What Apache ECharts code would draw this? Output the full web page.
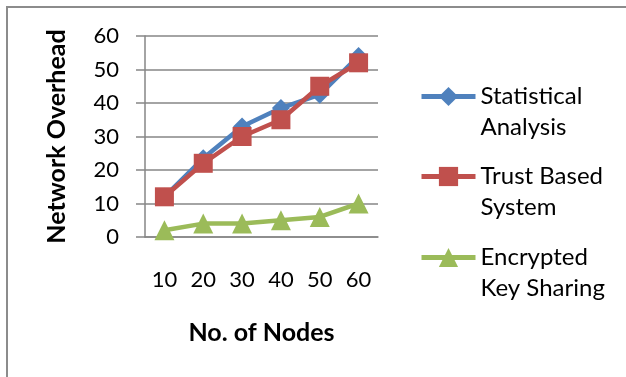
<!DOCTYPE html>
<html>
<head>
<meta charset="utf-8">
<script src="https://cdn.jsdelivr.net/npm/echarts@6/dist/echarts.min.js"></script>
<style>
  html, body { margin: 0; padding: 0; background: #fff; }
  #chart { width: 626px; height: 377px; }
</style>
</head>
<body>
<div id="chart"></div>
<script>
// Network overhead against number of nodes for three schemes
const nodeCounts = ['10', '20', '30', '40', '50', '60'];
const statisticalAnalysis = [12, 23.5, 33, 38.5, 42.5, 54];
const trustBasedSystem = [12, 22, 30, 35, 45, 52];
const encryptedKeySharing = [2, 4, 4, 5, 6, 10];
const seriesNames = ['Statistical Analysis', 'Trust Based System', 'Encrypted Key Sharing'];
// a leading blank line keeps the first text line level with the legend icon
const legendLabels = [' \nStatistical\nAnalysis', ' \nTrust Based\nSystem', ' \nEncrypted\nKey Sharing'];

const FONT = 'Lato, "Open Sans", sans-serif';
const GRID = '#868686';
const colors = ['#4F81BD', '#C0504D', '#9BBB59'];
const symbols = ['diamond', 'rect', 'triangle'];
const symbolSizes = [18, 19, 20];
const seriesData = [statisticalAnalysis, trustBasedSystem, encryptedKeySharing];
const legendTops = [50, 130, 211];

const chart = echarts.init(document.getElementById('chart'), null, { renderer: 'canvas' });

const legends = seriesNames.map((name, i) => ({
  data: [name],
  left: 419,
  top: legendTops[i],
  padding: 0,
  orient: 'vertical',
  itemWidth: 54,
  itemHeight: 24,
  formatter: () => legendLabels[i],
  lineStyle: { width: 5 },
  textStyle: {
    fontFamily: FONT,
    fontSize: 24,
    color: '#000',
    lineHeight: 31
  }
}));

chart.setOption({
  animation: false,
  backgroundColor: '#fff',
  graphic: [{
    type: 'rect',
    shape: { x: 7, y: 7, width: 700, height: 500 },
    style: { fill: 'none', stroke: '#8c8c8c', lineWidth: 2 },
    silent: true
  }],
  grid: { left: 145, top: 36, width: 233, height: 201, containLabel: false },
  legend: legends,
  xAxis: {
    type: 'category',
    data: nodeCounts,
    boundaryGap: true,
    name: 'No. of Nodes',
    nameLocation: 'middle',
    nameGap: 83,
    nameTextStyle: { fontFamily: FONT, fontSize: 25, fontWeight: 'bold', color: '#000' },
    axisLine: { show: true, lineStyle: { color: GRID, width: 1.5 } },
    axisTick: { show: false },
    axisLabel: { fontFamily: FONT, fontSize: 22, color: '#000', margin: 32 },
    splitLine: { show: false }
  },
  yAxis: {
    type: 'value',
    min: 0,
    max: 60,
    interval: 10,
    name: 'Network Overhead',
    nameLocation: 'middle',
    nameGap: 76,
    nameRotate: 90,
    nameTextStyle: { fontFamily: FONT, fontSize: 25, fontWeight: 'bold', color: '#000' },
    axisLine: { show: true, lineStyle: { color: GRID, width: 1.5 } },
    axisTick: { show: true, length: 9, lineStyle: { color: GRID, width: 1.5 } },
    axisLabel: { fontFamily: FONT, fontSize: 22, color: '#000', margin: 26 },
    splitLine: { show: true, lineStyle: { color: GRID, width: 1.5 } }
  },
  series: seriesNames.map((name, i) => ({
    name: name,
    type: 'line',
    data: seriesData[i],
    symbol: symbols[i],
    symbolSize: symbolSizes[i],
    showAllSymbol: true,
    color: colors[i],
    lineStyle: { color: colors[i], width: 4.5 },
    itemStyle: { color: colors[i] }
  }))
});
</script>
</body>
</html>
